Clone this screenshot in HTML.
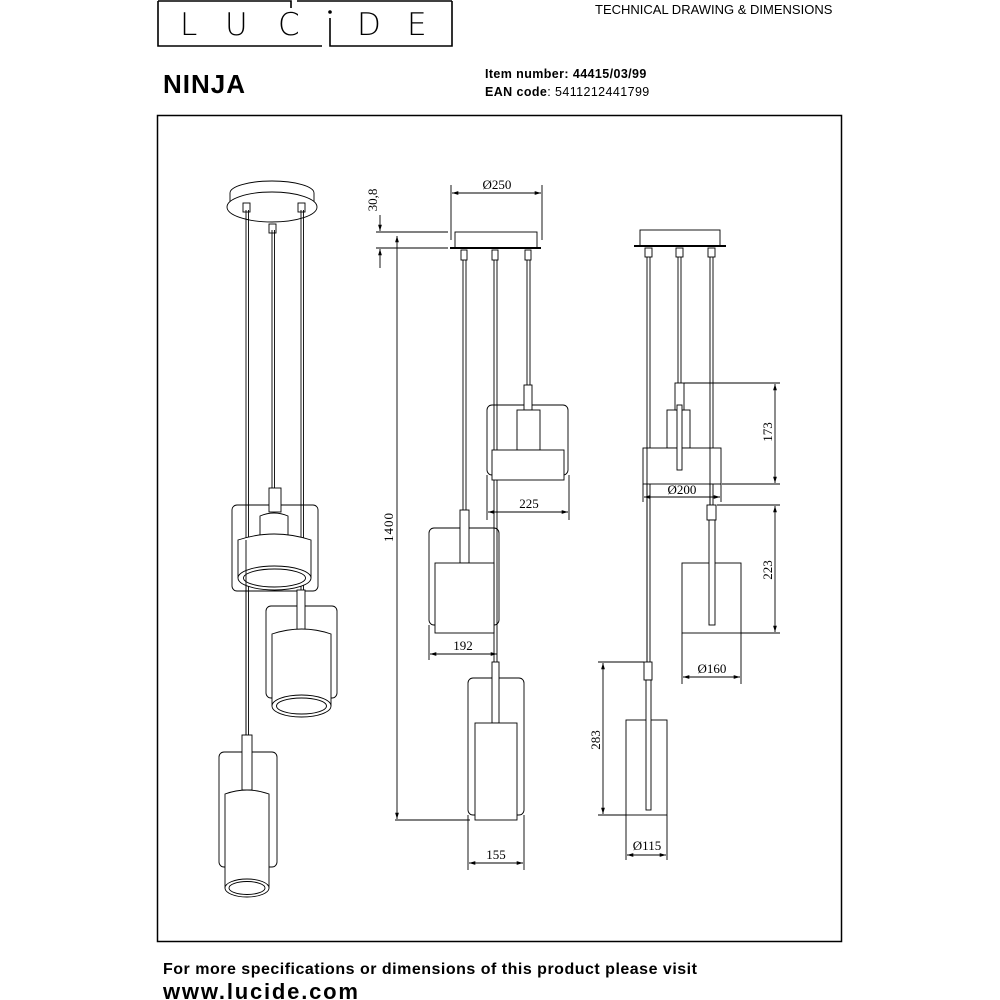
<!DOCTYPE html>
<html><head><meta charset="utf-8"><style>
html,body{margin:0;padding:0;background:#fff}
svg{display:block}
text{font-family:"Liberation Sans",sans-serif;fill:#000}
.s{font-family:"Liberation Serif",serif;font-size:13px}
.lg{font-family:"DejaVu Sans",sans-serif;font-size:31px;font-weight:200}
</style></head><body>
<svg width="1000" height="1000" viewBox="0 0 1000 1000" xmlns="http://www.w3.org/2000/svg">
<defs>
<marker id="a" viewBox="0 0 10 10" refX="10" refY="5" markerWidth="7" markerHeight="7" orient="auto-start-reverse"><path d="M0,2 L10,5 L0,8 z" fill="#000"/></marker>
</defs>
<g stroke="#000" stroke-width="1.6" fill="none">
<path d="M158,1 V46 H322"/><path d="M330,36 V46 H452 V1"/>
<path d="M158,1 H291 V8"/><path d="M297,1 H452"/>
</g>
<text class="lg" x="180" y="35">L</text>
<text class="lg" x="225" y="35">U</text>
<text class="lg" x="278" y="35">C</text>
<circle cx="330" cy="12" r="1.8" fill="#000"/>
<line x1="330" y1="18" x2="330" y2="36" stroke="#000" stroke-width="1.6"/>
<text class="lg" x="357" y="35">D</text>
<text class="lg" x="407" y="35">E</text>
<text x="595" y="14" font-size="13">TECHNICAL DRAWING &amp; DIMENSIONS</text>
<text x="163" y="93" font-size="26" font-weight="bold" letter-spacing="1">NINJA</text>
<text x="485" y="78" font-size="12.5" font-weight="bold" letter-spacing="0.4">Item number: 44415/03/99</text>
<text x="485" y="96" font-size="12.5" letter-spacing="0.4"><tspan font-weight="bold">EAN code</tspan>: 5411212441799</text>
<rect x="157.5" y="115.5" width="684" height="826" fill="none" stroke="#000" stroke-width="1.5"/>
<text x="163" y="974" font-size="16" font-weight="bold" letter-spacing="0.5">For more specifications or dimensions of this product please visit</text>
<text x="163" y="999" font-size="22" font-weight="bold" letter-spacing="1.8">www.lucide.com</text>

<g stroke="#000" stroke-width="0.9" fill="none">
<path d="M230,205 V193 A42,12 0 0 1 314,193 V205"/>
<ellipse cx="272" cy="207" rx="45" ry="15" fill="#fff"/>
<line x1="246" y1="210" x2="246" y2="735"/><line x1="248.5" y1="210" x2="248.5" y2="735"/>
<line x1="301" y1="210" x2="301" y2="590"/><line x1="303.5" y1="210" x2="303.5" y2="590"/>
<line x1="272" y1="230" x2="272" y2="488"/><line x1="274.5" y1="230" x2="274.5" y2="488"/>
<rect x="243" y="203" width="7" height="9"/><rect x="298" y="203" width="7" height="9"/><rect x="269" y="224" width="7" height="9"/>
<rect x="232" y="505" width="86" height="86" rx="5"/>
<rect x="269" y="488" width="12" height="24" fill="#fff"/>
<path d="M260,540 V516 Q274,510 288,516 V540" fill="#fff"/>
<path d="M238,578 V540 Q274,528 311,540 V578" fill="#fff"/>
<ellipse cx="274.5" cy="578" rx="36.5" ry="12" fill="#fff"/>
<ellipse cx="274.5" cy="578" rx="31" ry="9"/>
<line x1="246" y1="540" x2="246" y2="735"/>
<rect x="266" y="606" width="71" height="92" rx="5"/>
<rect x="297" y="590" width="8" height="40" fill="#fff"/>
<path d="M272,706 V634 Q302,624 331,634 V706" fill="#fff"/>
<ellipse cx="301.5" cy="706" rx="29.5" ry="11" fill="#fff"/>
<ellipse cx="301.5" cy="706" rx="25" ry="8"/>
<rect x="219" y="752" width="58" height="115" rx="5"/>
<rect x="242" y="735" width="10" height="55" fill="#fff"/>
<path d="M225,888 V794 Q247,786 269,794 V888" fill="#fff"/>
<ellipse cx="247" cy="888" rx="22" ry="9" fill="#fff"/>
<ellipse cx="247" cy="888" rx="18" ry="6.5"/>

<rect x="455" y="232" width="82" height="16"/>
<line x1="450" y1="248" x2="541" y2="248" stroke-width="2"/>
<line x1="451" y1="185" x2="451" y2="240"/><line x1="542" y1="185" x2="542" y2="240"/>
<line x1="452" y1="193" x2="541" y2="193" marker-start="url(#a)" marker-end="url(#a)"/>
<line x1="376" y1="232" x2="448" y2="232"/><line x1="376" y1="248" x2="448" y2="248"/>
<line x1="380" y1="215" x2="380" y2="231" marker-end="url(#a)"/>
<line x1="380" y1="268" x2="380" y2="249" marker-end="url(#a)"/>
<line x1="397" y1="236" x2="397" y2="819" marker-start="url(#a)" marker-end="url(#a)"/>
<line x1="395" y1="820" x2="470" y2="820"/>
<rect x="461" y="250" width="6" height="10"/><rect x="492" y="250" width="6" height="10"/><rect x="525" y="250" width="6" height="10"/>
<line x1="463" y1="260" x2="463" y2="510"/><line x1="466" y1="260" x2="466" y2="510"/>
<line x1="494" y1="260" x2="494" y2="662"/><line x1="497" y1="260" x2="497" y2="662"/>
<line x1="527" y1="260" x2="527" y2="385"/><line x1="530" y1="260" x2="530" y2="385"/>
<rect x="487" y="405" width="81" height="70" rx="5"/>
<rect x="524" y="385" width="8" height="25" fill="#fff"/>
<rect x="517" y="410" width="23" height="40" fill="#fff"/>
<rect x="492" y="450" width="72" height="30" fill="#fff"/>
<line x1="487" y1="475" x2="487" y2="520"/><line x1="569" y1="475" x2="569" y2="520"/>
<line x1="488" y1="512" x2="568" y2="512" marker-start="url(#a)" marker-end="url(#a)"/>
<rect x="429" y="528" width="70" height="97" rx="5"/>
<rect x="460" y="510" width="9" height="53" fill="#fff"/>
<rect x="435" y="563" width="59" height="70" fill="#fff"/>
<line x1="429" y1="625" x2="429" y2="660"/>
<line x1="430" y1="654" x2="497" y2="654" marker-start="url(#a)" marker-end="url(#a)"/>
<rect x="468" y="678" width="56" height="137" rx="5"/>
<rect x="492" y="662" width="7" height="61" fill="#fff"/>
<rect x="475" y="723" width="42" height="97" fill="#fff"/>
<line x1="468" y1="815" x2="468" y2="870"/><line x1="524" y1="815" x2="524" y2="870"/>
<line x1="469" y1="863" x2="523" y2="863" marker-start="url(#a)" marker-end="url(#a)"/>

<rect x="640" y="230" width="80" height="16"/>
<line x1="634" y1="246" x2="726" y2="246" stroke-width="2"/>
<rect x="645" y="248" width="7" height="9"/><rect x="676" y="248" width="7" height="9"/><rect x="708" y="248" width="7" height="9"/>
<line x1="647" y1="257" x2="647" y2="662"/><line x1="650" y1="257" x2="650" y2="662"/>
<line x1="678" y1="257" x2="678" y2="383"/><line x1="681" y1="257" x2="681" y2="383"/>
<line x1="710" y1="257" x2="710" y2="505"/><line x1="713" y1="257" x2="713" y2="505"/>
<rect x="667" y="410" width="23" height="38"/>
<rect x="643" y="448" width="78" height="36" fill="#fff"/>
<rect x="675" y="383" width="9" height="27" fill="#fff"/>
<rect x="677" y="405" width="5" height="65" fill="#fff"/>
<line x1="684" y1="383" x2="780" y2="383"/><line x1="722" y1="484" x2="780" y2="484"/>
<line x1="775" y1="384" x2="775" y2="483" marker-start="url(#a)" marker-end="url(#a)"/>
<line x1="643" y1="484" x2="643" y2="502"/><line x1="721" y1="484" x2="721" y2="502"/>
<line x1="644" y1="497" x2="720" y2="497" marker-start="url(#a)" marker-end="url(#a)"/>
<line x1="647" y1="448" x2="647" y2="662"/><line x1="710" y1="448" x2="710" y2="505"/>
<rect x="682" y="563" width="59" height="70"/>
<rect x="707" y="505" width="9" height="15" fill="#fff"/>
<rect x="709" y="520" width="6" height="105" fill="#fff"/>
<line x1="717" y1="505" x2="780" y2="505"/><line x1="741" y1="633" x2="780" y2="633"/>
<line x1="775" y1="506" x2="775" y2="632" marker-start="url(#a)" marker-end="url(#a)"/>
<line x1="682" y1="633" x2="682" y2="684"/><line x1="741" y1="633" x2="741" y2="684"/>
<line x1="683" y1="677" x2="740" y2="677" marker-start="url(#a)" marker-end="url(#a)"/>
<rect x="626" y="720" width="41" height="95"/>
<rect x="644" y="662" width="8" height="18" fill="#fff"/>
<rect x="646" y="680" width="5" height="130" fill="#fff"/>
<line x1="598" y1="662" x2="644" y2="662"/><line x1="598" y1="815" x2="626" y2="815"/>
<line x1="603" y1="663" x2="603" y2="814" marker-start="url(#a)" marker-end="url(#a)"/>
<line x1="626" y1="815" x2="626" y2="860"/><line x1="667" y1="815" x2="667" y2="860"/>
<line x1="627" y1="855" x2="666" y2="855" marker-start="url(#a)" marker-end="url(#a)"/>
</g>

<text class="s" x="497" y="189" text-anchor="middle">Ø250</text>
<text class="s" transform="translate(377,200) rotate(-90)" text-anchor="middle">30,8</text>
<text class="s" font-size="15" transform="translate(393,527) rotate(-90)" text-anchor="middle" letter-spacing="1">1400</text>
<text class="s" x="529" y="508" text-anchor="middle">225</text>
<text class="s" x="463" y="650" text-anchor="middle">192</text>
<text class="s" x="496" y="859" text-anchor="middle">155</text>
<text class="s" transform="translate(772,432) rotate(-90)" text-anchor="middle">173</text>
<text class="s" x="682" y="494" text-anchor="middle">Ø200</text>
<text class="s" transform="translate(772,570) rotate(-90)" text-anchor="middle">223</text>
<text class="s" x="712" y="673" text-anchor="middle">Ø160</text>
<text class="s" transform="translate(600,740) rotate(-90)" text-anchor="middle">283</text>
<text class="s" x="647" y="850" text-anchor="middle">Ø115</text>
</svg>
</body></html>
